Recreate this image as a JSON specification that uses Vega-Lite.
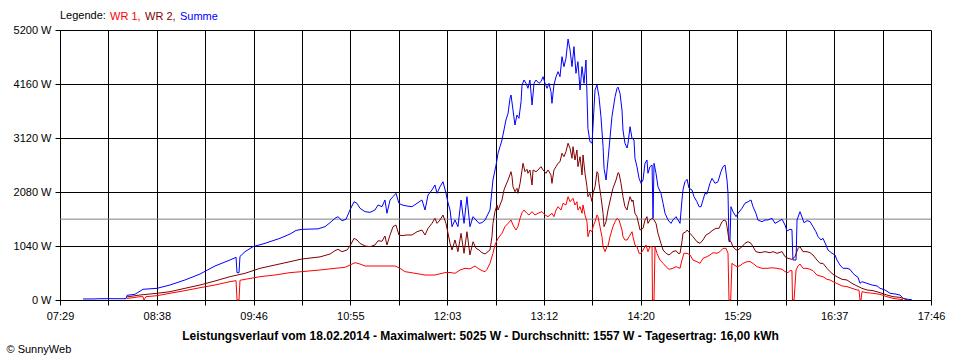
{
"$schema":"https://vega.github.io/schema/vega-lite/v6.json",
"width":871,"height":270,
"autosize":{"type":"none"},
"padding":{"left":60,"top":30,"right":29,"bottom":60},
"background":"white",
"config":{"font":"Liberation Sans","view":{"stroke":null},
"axis":{"gridColor":"black","gridOpacity":1,"gridWidth":1,"domainColor":"black","domainWidth":1,"tickColor":"black","tickWidth":1,"tickSize":5,"labelColor":"black","labelFontSize":11,"labelFont":"Liberation Sans","titleColor":"black","titleFont":"Liberation Sans","titleFontSize":11}},
"datasets":{
"summe":[{"t":465.3,"w":20},{"t":472.4,"w":20},{"t":477.3,"w":25},{"t":495.8,"w":25},{"t":496.5,"w":90},{"t":502.1,"w":110},{"t":507.8,"w":206},{"t":517.7,"w":225},{"t":526.9,"w":289},{"t":537.5,"w":385},{"t":548.2,"w":500},{"t":558.8,"w":655},{"t":569.4,"w":770},{"t":573.7,"w":822},{"t":574.4,"w":526},{"t":575.8,"w":526},{"t":576.5,"w":840},{"t":580.1,"w":931},{"t":585.7,"w":1027},{"t":594.2,"w":1091},{"t":604.8,"w":1188},{"t":611.9,"w":1270},{"t":616.2,"w":1340},{"t":620.4,"w":1361},{"t":631.8,"w":1370},{"t":636.7,"w":1412},{"t":640.3,"w":1489},{"t":643.8,"w":1573},{"t":645.9,"w":1605},{"t":648.8,"w":1528},{"t":651.6,"w":1554},{"t":654.4,"w":1733},{"t":657.3,"w":1893},{"t":659.4,"w":1862},{"t":661.5,"w":1766},{"t":665.1,"w":1701},{"t":668.6,"w":1688},{"t":672.1,"w":1733},{"t":674.3,"w":1830},{"t":677.1,"w":1797},{"t":679.2,"w":1926},{"t":680.6,"w":1670},{"t":682.8,"w":1926},{"t":684.9,"w":1990},{"t":687.0,"w":2055},{"t":689.1,"w":1862},{"t":691.3,"w":1830},{"t":694.8,"w":1810},{"t":698.4,"w":1797},{"t":701.9,"w":1862},{"t":705.4,"w":1926},{"t":707.6,"w":1733},{"t":709.7,"w":2022},{"t":712.5,"w":2119},{"t":714.6,"w":2215},{"t":716.1,"w":2055},{"t":718.2,"w":2182},{"t":720.3,"w":2278},{"t":722.4,"w":2060},{"t":723.9,"w":1868},{"t":725.3,"w":1733},{"t":726.7,"w":1412},{"t":728.8,"w":1541},{"t":730.9,"w":1412},{"t":733.1,"w":1926},{"t":735.2,"w":1476},{"t":737.3,"w":1990},{"t":739.4,"w":1412},{"t":741.6,"w":1605},{"t":743.7,"w":1541},{"t":745.8,"w":1476},{"t":747.9,"w":1489},{"t":750.1,"w":1541},{"t":753.6,"w":1733},{"t":755.7,"w":2311},{"t":757.9,"w":2600},{"t":759.3,"w":2825},{"t":760.7,"w":2953},{"t":762.1,"w":3082},{"t":763.5,"w":3274},{"t":764.9,"w":3467},{"t":766.4,"w":3596},{"t":767.8,"w":3885},{"t":768.5,"w":3948},{"t":769.9,"w":3659},{"t":771.3,"w":3370},{"t":772.7,"w":3563},{"t":774.1,"w":3499},{"t":775.6,"w":3819},{"t":776.3,"w":4141},{"t":777.7,"w":4237},{"t":779.1,"w":4173},{"t":780.5,"w":4077},{"t":781.9,"w":4237},{"t":783.4,"w":3756},{"t":784.8,"w":4173},{"t":786.2,"w":4237},{"t":788.3,"w":4173},{"t":789.7,"w":4205},{"t":791.2,"w":4301},{"t":792.6,"w":4173},{"t":794.0,"w":4077},{"t":795.4,"w":4173},{"t":796.8,"w":4012},{"t":797.5,"w":3788},{"t":798.9,"w":4141},{"t":800.4,"w":4301},{"t":801.8,"w":4398},{"t":803.2,"w":4301},{"t":804.6,"w":4686},{"t":806.0,"w":4494},{"t":807.4,"w":4654},{"t":808.9,"w":5025},{"t":810.3,"w":4815},{"t":811.7,"w":4494},{"t":813.1,"w":4879},{"t":814.5,"w":4366},{"t":815.9,"w":4590},{"t":817.4,"w":4045},{"t":818.8,"w":4494},{"t":820.2,"w":4173},{"t":821.6,"w":4622},{"t":823.0,"w":3300},{"t":824.4,"w":3050},{"t":825.9,"w":3020},{"t":828.0,"w":4045},{"t":829.4,"w":4141},{"t":830.8,"w":3916},{"t":832.2,"w":3531},{"t":833.7,"w":2953},{"t":834.4,"w":2536},{"t":835.8,"w":2311},{"t":837.2,"w":2700},{"t":840.0,"w":3531},{"t":842.2,"w":3916},{"t":843.6,"w":4077},{"t":844.3,"w":4100},{"t":845.7,"w":3980},{"t":847.1,"w":3659},{"t":847.8,"w":3274},{"t":849.2,"w":3018},{"t":850.7,"w":2927},{"t":851.4,"w":3018},{"t":852.8,"w":3338},{"t":854.2,"w":3114},{"t":855.6,"w":3082},{"t":856.3,"w":2729},{"t":857.7,"w":2568},{"t":859.2,"w":2343},{"t":860.6,"w":2247},{"t":862.0,"w":2311},{"t":863.4,"w":2633},{"t":864.8,"w":2696},{"t":865.5,"w":2440},{"t":866.9,"w":2568},{"t":868.4,"w":2600},{"t":869.1,"w":1573},{"t":869.8,"w":2633},{"t":871.2,"w":2440},{"t":872.6,"w":2182},{"t":874.7,"w":2055},{"t":876.2,"w":1862},{"t":877.6,"w":1670},{"t":879.7,"w":1541},{"t":881.8,"w":1476},{"t":883.2,"w":1541},{"t":885.4,"w":1605},{"t":886.8,"w":1541},{"t":888.2,"w":1476},{"t":889.6,"w":1926},{"t":890.3,"w":2119},{"t":891.7,"w":2278},{"t":893.2,"w":2324},{"t":894.6,"w":2151},{"t":896.7,"w":2119},{"t":898.1,"w":1990},{"t":900.2,"w":1893},{"t":901.7,"w":1797},{"t":903.1,"w":1797},{"t":904.5,"w":1926},{"t":905.9,"w":2055},{"t":907.3,"w":2040},{"t":909.4,"w":2247},{"t":910.9,"w":2343},{"t":913.0,"w":2247},{"t":915.1,"w":2278},{"t":917.2,"w":2471},{"t":918.7,"w":2568},{"t":920.1,"w":2600},{"t":921.5,"w":2311},{"t":922.2,"w":2055},{"t":922.9,"w":1123},{"t":923.6,"w":1123},{"t":924.3,"w":1797},{"t":925.7,"w":1701},{"t":927.9,"w":1605},{"t":929.3,"w":1670},{"t":932.1,"w":1766},{"t":934.2,"w":1862},{"t":936.4,"w":1893},{"t":938.5,"w":1926},{"t":939.9,"w":1797},{"t":942.0,"w":1670},{"t":943.4,"w":1541},{"t":946.3,"w":1508},{"t":948.4,"w":1541},{"t":950.5,"w":1541},{"t":953.4,"w":1573},{"t":955.5,"w":1476},{"t":957.6,"w":1508},{"t":960.5,"w":1554},{"t":962.6,"w":1444},{"t":964.0,"w":1330},{"t":966.1,"w":1361},{"t":967.5,"w":1355},{"t":968.2,"w":770},{"t":970.4,"w":770},{"t":971.1,"w":1541},{"t":973.2,"w":1701},{"t":974.6,"w":1600},{"t":976.0,"w":1489},{"t":978.2,"w":1528},{"t":980.3,"w":1510},{"t":982.4,"w":1412},{"t":984.5,"w":1315},{"t":986.0,"w":1219},{"t":988.1,"w":1156},{"t":989.5,"w":1188},{"t":991.6,"w":1059},{"t":993.0,"w":963},{"t":995.9,"w":899},{"t":998.0,"w":867},{"t":999.4,"w":770},{"t":1001.5,"w":674},{"t":1003.7,"w":610},{"t":1006.5,"w":610},{"t":1008.6,"w":591},{"t":1010.7,"w":514},{"t":1012.9,"w":462},{"t":1014.3,"w":437},{"t":1015.7,"w":321},{"t":1017.1,"w":353},{"t":1020.7,"w":321},{"t":1024.2,"w":289},{"t":1027.8,"w":270},{"t":1029.9,"w":225},{"t":1033.4,"w":193},{"t":1037.0,"w":129},{"t":1040.5,"w":116},{"t":1044.0,"w":96},{"t":1046.2,"w":32},{"t":1049.7,"w":13},{"t":1052.5,"w":5}],
"wr2":[{"t":496.5,"w":60},{"t":505.7,"w":96},{"t":517.7,"w":129},{"t":526.9,"w":160},{"t":537.5,"w":225},{"t":548.2,"w":289},{"t":558.8,"w":366},{"t":569.4,"w":449},{"t":580.1,"w":514},{"t":590.7,"w":610},{"t":601.3,"w":674},{"t":611.9,"w":738},{"t":620.4,"w":790},{"t":633.2,"w":830},{"t":640.3,"w":886},{"t":643.8,"w":950},{"t":645.9,"w":976},{"t":648.8,"w":931},{"t":652.3,"w":963},{"t":654.4,"w":1040},{"t":657.3,"w":1188},{"t":659.4,"w":1156},{"t":661.5,"w":1091},{"t":665.1,"w":1040},{"t":668.6,"w":1027},{"t":672.1,"w":1059},{"t":674.3,"w":1142},{"t":677.1,"w":1130},{"t":679.2,"w":1232},{"t":680.6,"w":1059},{"t":682.8,"w":1252},{"t":684.9,"w":1412},{"t":687.0,"w":1444},{"t":689.1,"w":1252},{"t":691.3,"w":1240},{"t":694.8,"w":1252},{"t":698.4,"w":1252},{"t":701.9,"w":1315},{"t":705.4,"w":1348},{"t":707.6,"w":1252},{"t":709.7,"w":1380},{"t":712.5,"w":1476},{"t":714.6,"w":1573},{"t":716.1,"w":1476},{"t":718.2,"w":1541},{"t":720.3,"w":1637},{"t":722.4,"w":1476},{"t":723.9,"w":1284},{"t":725.3,"w":1091},{"t":726.7,"w":963},{"t":728.8,"w":1156},{"t":730.9,"w":931},{"t":733.1,"w":1284},{"t":735.2,"w":899},{"t":737.3,"w":1315},{"t":739.4,"w":867},{"t":741.6,"w":1123},{"t":743.7,"w":995},{"t":745.8,"w":963},{"t":747.9,"w":911},{"t":750.1,"w":886},{"t":753.6,"w":963},{"t":755.0,"w":1219},{"t":755.7,"w":1476},{"t":757.1,"w":1701},{"t":758.6,"w":1830},{"t":759.3,"w":1733},{"t":760.7,"w":1830},{"t":762.1,"w":1926},{"t":763.5,"w":2119},{"t":764.9,"w":2215},{"t":766.4,"w":2311},{"t":768.5,"w":2471},{"t":769.2,"w":2375},{"t":769.9,"w":2182},{"t":771.3,"w":2086},{"t":772.7,"w":2151},{"t":773.4,"w":2055},{"t":774.9,"w":2247},{"t":776.3,"w":2504},{"t":777.0,"w":2633},{"t":778.4,"w":2471},{"t":779.8,"w":2517},{"t":780.5,"w":2440},{"t":781.9,"w":2504},{"t":783.4,"w":2215},{"t":784.1,"w":2504},{"t":786.2,"w":2471},{"t":787.6,"w":2504},{"t":789.7,"w":2568},{"t":791.2,"w":2504},{"t":793.3,"w":2440},{"t":794.7,"w":2504},{"t":796.8,"w":2408},{"t":797.5,"w":2247},{"t":798.9,"w":2504},{"t":800.4,"w":2568},{"t":801.8,"w":2633},{"t":803.2,"w":2664},{"t":804.6,"w":2825},{"t":806.0,"w":2760},{"t":807.4,"w":2857},{"t":808.9,"w":3018},{"t":810.3,"w":2921},{"t":811.7,"w":2729},{"t":812.4,"w":2953},{"t":813.8,"w":2696},{"t":815.2,"w":2889},{"t":815.9,"w":2568},{"t":817.4,"w":2760},{"t":818.8,"w":2408},{"t":819.5,"w":2793},{"t":820.9,"w":2440},{"t":822.3,"w":2182},{"t":823.0,"w":1990},{"t":824.4,"w":2055},{"t":825.9,"w":1893},{"t":826.6,"w":2055},{"t":828.0,"w":2182},{"t":829.4,"w":2471},{"t":830.1,"w":2440},{"t":830.8,"w":2247},{"t":832.2,"w":1990},{"t":833.7,"w":1670},{"t":834.4,"w":1412},{"t":835.8,"w":1508},{"t":837.2,"w":1733},{"t":839.3,"w":1990},{"t":840.7,"w":2151},{"t":842.9,"w":2311},{"t":844.3,"w":2453},{"t":845.0,"w":2440},{"t":846.4,"w":2247},{"t":847.8,"w":1990},{"t":849.2,"w":1797},{"t":850.7,"w":1733},{"t":851.4,"w":1830},{"t":852.8,"w":1990},{"t":854.2,"w":1893},{"t":854.9,"w":1926},{"t":856.3,"w":1670},{"t":857.7,"w":1605},{"t":859.9,"w":1348},{"t":862.0,"w":1380},{"t":863.4,"w":1541},{"t":864.8,"w":1605},{"t":865.5,"w":1476},{"t":866.9,"w":1541},{"t":868.4,"w":1573},{"t":869.8,"w":1541},{"t":871.2,"w":1476},{"t":872.6,"w":1284},{"t":874.7,"w":1091},{"t":876.2,"w":963},{"t":878.3,"w":899},{"t":880.4,"w":867},{"t":883.2,"w":931},{"t":885.4,"w":950},{"t":886.8,"w":899},{"t":888.2,"w":899},{"t":889.6,"w":1123},{"t":890.3,"w":1284},{"t":892.4,"w":1315},{"t":893.2,"w":1348},{"t":895.3,"w":1284},{"t":897.4,"w":1219},{"t":900.2,"w":1123},{"t":902.4,"w":1091},{"t":904.5,"w":1156},{"t":906.6,"w":1252},{"t":908.7,"w":1284},{"t":911.6,"w":1348},{"t":913.7,"w":1380},{"t":915.8,"w":1380},{"t":918.0,"w":1508},{"t":919.4,"w":1541},{"t":920.8,"w":1520},{"t":921.5,"w":1412},{"t":922.9,"w":1156},{"t":924.3,"w":1123},{"t":925.7,"w":1027},{"t":927.9,"w":963},{"t":929.3,"w":963},{"t":932.1,"w":1027},{"t":934.2,"w":1091},{"t":936.4,"w":1123},{"t":938.5,"w":1091},{"t":939.9,"w":1027},{"t":942.0,"w":931},{"t":944.9,"w":911},{"t":948.4,"w":931},{"t":952.0,"w":911},{"t":954.1,"w":931},{"t":956.9,"w":899},{"t":960.5,"w":931},{"t":962.6,"w":834},{"t":964.7,"w":803},{"t":967.5,"w":783},{"t":969.7,"w":834},{"t":971.8,"w":995},{"t":973.2,"w":1027},{"t":975.3,"w":931},{"t":978.2,"w":931},{"t":980.3,"w":911},{"t":982.4,"w":867},{"t":985.2,"w":770},{"t":987.4,"w":706},{"t":989.5,"w":706},{"t":992.3,"w":610},{"t":994.5,"w":545},{"t":996.6,"w":494},{"t":1000.1,"w":437},{"t":1003.0,"w":398},{"t":1006.5,"w":385},{"t":1010.0,"w":321},{"t":1013.6,"w":270},{"t":1017.1,"w":225},{"t":1020.7,"w":193},{"t":1024.9,"w":180},{"t":1029.9,"w":141},{"t":1034.8,"w":96},{"t":1039.1,"w":64},{"t":1044.0,"w":51},{"t":1047.6,"w":19},{"t":1049.0,"w":5}],
"wr1":[{"t":496.5,"w":30},{"t":505.7,"w":64},{"t":507.8,"w":64},{"t":508.5,"w":0},{"t":509.9,"w":64},{"t":517.7,"w":83},{"t":526.9,"w":129},{"t":537.5,"w":180},{"t":548.2,"w":237},{"t":558.8,"w":289},{"t":569.4,"w":353},{"t":573.7,"w":372},{"t":574.4,"w":0},{"t":575.8,"w":0},{"t":576.5,"w":380},{"t":580.1,"w":398},{"t":590.7,"w":449},{"t":601.3,"w":481},{"t":611.9,"w":527},{"t":620.4,"w":546},{"t":633.2,"w":578},{"t":643.8,"w":610},{"t":650.9,"w":629},{"t":654.4,"w":674},{"t":658.0,"w":719},{"t":661.5,"w":693},{"t":665.1,"w":655},{"t":672.1,"w":655},{"t":679.2,"w":655},{"t":686.3,"w":655},{"t":689.9,"w":610},{"t":693.4,"w":546},{"t":700.5,"w":514},{"t":707.6,"w":481},{"t":714.6,"w":481},{"t":721.7,"w":527},{"t":725.3,"w":530},{"t":728.8,"w":514},{"t":732.4,"w":578},{"t":735.9,"w":610},{"t":739.4,"w":600},{"t":743.0,"w":655},{"t":745.1,"w":610},{"t":747.9,"w":565},{"t":750.1,"w":546},{"t":751.5,"w":590},{"t":753.6,"w":706},{"t":755.7,"w":899},{"t":757.1,"w":1059},{"t":759.3,"w":1188},{"t":762.1,"w":1284},{"t":764.2,"w":1412},{"t":766.4,"w":1476},{"t":768.5,"w":1541},{"t":769.9,"w":1444},{"t":772.0,"w":1348},{"t":773.4,"w":1412},{"t":774.9,"w":1573},{"t":776.3,"w":1682},{"t":777.7,"w":1733},{"t":779.8,"w":1670},{"t":781.2,"w":1637},{"t":783.4,"w":1701},{"t":785.5,"w":1637},{"t":787.6,"w":1670},{"t":790.4,"w":1701},{"t":792.6,"w":1637},{"t":794.7,"w":1605},{"t":797.5,"w":1670},{"t":798.9,"w":1605},{"t":800.4,"w":1733},{"t":801.8,"w":1797},{"t":803.9,"w":1733},{"t":805.3,"w":1862},{"t":807.4,"w":1830},{"t":808.9,"w":1990},{"t":810.3,"w":1893},{"t":812.4,"w":1958},{"t":813.8,"w":1830},{"t":815.2,"w":1893},{"t":815.9,"w":1733},{"t":817.4,"w":1797},{"t":818.8,"w":1670},{"t":819.5,"w":1830},{"t":820.9,"w":1637},{"t":822.3,"w":1508},{"t":823.0,"w":1219},{"t":824.4,"w":1348},{"t":825.9,"w":1315},{"t":826.6,"w":1412},{"t":828.0,"w":1508},{"t":829.4,"w":1637},{"t":830.1,"w":1605},{"t":831.5,"w":1412},{"t":832.9,"w":1219},{"t":833.7,"w":1027},{"t":835.1,"w":931},{"t":836.5,"w":1027},{"t":837.2,"w":1040},{"t":838.6,"w":1219},{"t":840.7,"w":1412},{"t":842.2,"w":1508},{"t":843.6,"w":1573},{"t":845.0,"w":1541},{"t":847.1,"w":1348},{"t":847.8,"w":1219},{"t":849.2,"w":1156},{"t":850.7,"w":1156},{"t":852.1,"w":1219},{"t":854.2,"w":1315},{"t":854.9,"w":1219},{"t":856.3,"w":1059},{"t":857.7,"w":1027},{"t":859.2,"w":899},{"t":860.6,"w":899},{"t":862.0,"w":963},{"t":864.1,"w":1059},{"t":865.5,"w":931},{"t":866.9,"w":1027},{"t":868.4,"w":1027},{"t":868.7,"w":0},{"t":869.8,"w":0},{"t":870.5,"w":1027},{"t":871.9,"w":899},{"t":874.0,"w":770},{"t":876.2,"w":706},{"t":878.3,"w":642},{"t":880.4,"w":591},{"t":883.2,"w":610},{"t":885.4,"w":642},{"t":888.2,"w":610},{"t":889.6,"w":770},{"t":891.0,"w":899},{"t":893.2,"w":899},{"t":895.3,"w":867},{"t":897.4,"w":770},{"t":900.2,"w":738},{"t":902.4,"w":706},{"t":904.5,"w":803},{"t":907.3,"w":834},{"t":909.4,"w":867},{"t":911.6,"w":911},{"t":914.4,"w":899},{"t":916.5,"w":931},{"t":918.7,"w":995},{"t":920.8,"w":995},{"t":922.2,"w":899},{"t":922.9,"w":0},{"t":924.1,"w":0},{"t":925.0,"w":706},{"t":926.5,"w":674},{"t":928.6,"w":642},{"t":930.7,"w":660},{"t":932.8,"w":706},{"t":935.7,"w":738},{"t":937.8,"w":740},{"t":939.9,"w":706},{"t":942.7,"w":642},{"t":946.3,"w":610},{"t":949.8,"w":610},{"t":953.4,"w":620},{"t":956.9,"w":610},{"t":960.5,"w":591},{"t":962.6,"w":546},{"t":964.7,"w":527},{"t":966.1,"w":565},{"t":967.5,"w":565},{"t":967.9,"w":0},{"t":969.0,"w":0},{"t":970.4,"w":578},{"t":971.8,"w":655},{"t":973.2,"w":693},{"t":975.3,"w":610},{"t":978.2,"w":610},{"t":980.3,"w":591},{"t":982.4,"w":565},{"t":985.2,"w":481},{"t":987.4,"w":462},{"t":989.5,"w":449},{"t":992.3,"w":398},{"t":994.5,"w":385},{"t":996.6,"w":353},{"t":1000.1,"w":308},{"t":1003.0,"w":270},{"t":1006.5,"w":257},{"t":1010.0,"w":225},{"t":1013.6,"w":193},{"t":1015.0,"w":190},{"t":1015.7,"w":0},{"t":1016.4,"w":0},{"t":1017.1,"w":160},{"t":1020.7,"w":141},{"t":1024.9,"w":129},{"t":1029.9,"w":109},{"t":1034.8,"w":64},{"t":1039.1,"w":32},{"t":1044.0,"w":13},{"t":1046.2,"w":5}]
},
"layer":[
{"data":{"values":[{"w":1557}]},
 "mark":{"type":"rule","color":"#808080","strokeWidth":1},
 "encoding":{"y":{"field":"w","type":"quantitative","scale":{"domain":[0,5200],"nice":false,"zero":true},
  "axis":{"values":[0,1040,2080,3120,4160,5200],"labelExpr":"datum.value + ' W'","grid":true,"labelPadding":4,"title":"© SunnyWeb","titleAngle":0,"titleAlign":"left","titleBaseline":"middle","titleFontWeight":"normal","titleX":-54,"titleY":319}}}},
{"data":{"name":"summe"},
 "mark":{"type":"line","strokeWidth":1,"interpolate":"linear"},
 "encoding":{
  "x":{"field":"t","type":"quantitative","scale":{"domain":[449,1066],"nice":false,"zero":false},
   "axis":{"values":[449,483.2778,517.5556,551.8333,586.1111,620.3889,654.6667,688.9444,723.2222,757.5,791.7778,826.0556,860.3333,894.6111,928.8889,963.1667,997.4444,1031.7222,1066],
    "labelExpr":"round((datum.value-449)/34.27778) % 2 == 0 ? pad(floor(round(datum.value)/60)+'',2,'0','left')+':'+pad(round(datum.value)%60+'',2,'0','left') : ''",
    "grid":true,"labelPadding":5,"labelFlush":false,"labelOverlap":false,
    "title":"Leistungsverlauf vom 18.02.2014 - Maximalwert: 5025 W - Durchschnitt: 1557 W - Tagesertrag: 16,00 kWh",
    "titleFontWeight":"bold","titleFontSize":12,"titleX":420,"titleY":30,"titleAlign":"center","titleBaseline":"top"}},
  "y":{"field":"w","type":"quantitative"},
  "color":{"datum":"Summe","type":"nominal","scale":{"domain":["WR 1","WR 2","Summe"],"range":["#ff0000","#800000","#0000ff"]},
   "legend":{"orient":"top","title":"Legende:","titleOrient":"left","titleFontWeight":"normal","titleFontSize":11,"titleColor":"black","titlePadding":3,
    "labelFontSize":11,"symbolSize":0,"symbolStrokeWidth":0,"symbolOpacity":0,"labelOffset":-10,"columnPadding":3,"offset":8,"padding":0,
    "labelExpr":"datum.label == 'Summe' ? datum.label : datum.label + ','",
    "encode":{"labels":{"update":{"fill":{"scale":"color","field":"value"}}}}}}}},
{"data":{"name":"wr2"},
 "mark":{"type":"line","strokeWidth":1,"interpolate":"linear"},
 "encoding":{"x":{"field":"t","type":"quantitative"},"y":{"field":"w","type":"quantitative"},"color":{"datum":"WR 2","type":"nominal"}}},
{"data":{"name":"wr1"},
 "mark":{"type":"line","strokeWidth":1,"interpolate":"linear"},
 "encoding":{"x":{"field":"t","type":"quantitative"},"y":{"field":"w","type":"quantitative"},"color":{"datum":"WR 1","type":"nominal"}}}
]
}
